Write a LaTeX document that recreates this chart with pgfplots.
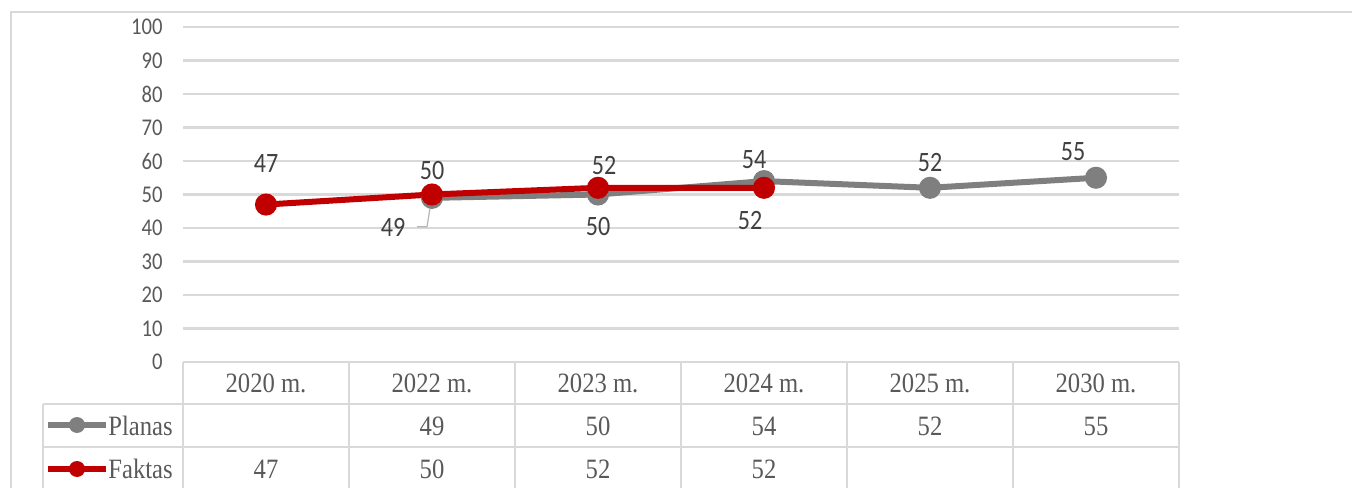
\documentclass[border=0pt]{standalone}
\usepackage{fontspec}
\setmainfont[FakeStretch=0.88]{Liberation Serif}
\newfontfamily\labfont[FakeStretch=0.86]{Carlito}
\usepackage{pgfplots}
\pgfplotsset{compat=1.18}
\definecolor{gridc}{HTML}{D9D9D9}
\definecolor{txt}{HTML}{595959}
\definecolor{lbl}{HTML}{404040}
\definecolor{plan}{HTML}{7F7F7F}
\definecolor{fakt}{HTML}{C00000}

\begin{document}
\begin{tikzpicture}
\useasboundingbox (0,0) rectangle (676pt,243.5pt);
% outer frame
\draw[gridc, line width=1.2pt] (5.5pt,-5pt) -- (5.5pt,237.5pt) -- (690pt,237.5pt);

\begin{axis}[
    at={(91.5pt,62.5pt)}, anchor=south west,
    scale only axis, width=498pt, height=167.5pt,
    xmin=-0.5, xmax=5.5, ymin=0, ymax=100,
    ytick={0,10,...,100}, xtick=\empty,
    axis line style={draw=none},
    ymajorgrids, grid style={gridc, line width=1.2pt},
    major tick length=0pt,
    yticklabel style={font=\labfont\fontsize{12}{14}\selectfont, text=txt, inner sep=0pt, xshift=-10pt},
    /pgf/number format/assume math mode=true,
    clip=false,
]
  \addplot[plan, line width=3pt, mark=*, mark size=4pt] coordinates {
    (1,49) (2,50) (3,54) (4,52) (5,55)
  };
  \addplot[fakt, line width=3pt, mark=*, mark size=4pt] coordinates {
    (0,47) (1,50) (2,52) (3,52)
  };

  % data labels
  \tikzset{dl/.style={font=\labfont\fontsize{14}{16}\selectfont, text=lbl, inner sep=0pt}}
  \node[dl, yshift=20.5pt] at (axis cs:0,47) {47};
  \node[dl, yshift=11.75pt] at (axis cs:1,50) {50};
  \node[dl, yshift=11pt, xshift=3pt] at (axis cs:2,52) {52};
  \node[dl, yshift=-16.5pt, xshift=-7pt] at (axis cs:3,52) {52};
  \node[dl, yshift=-16pt] at (axis cs:2,50) {50};
  \node[dl, yshift=-15pt, xshift=-19.5pt] at (axis cs:1,49) {49};
  \draw[gridc!60!gray, line width=0.6pt]
    ([xshift=-0.5pt, yshift=-2pt]axis cs:1,49) --
    ([xshift=-2.5pt, yshift=-14.5pt]axis cs:1,49) --
    ([xshift=-7.5pt, yshift=-14.5pt]axis cs:1,49);
  \node[dl, yshift=10.5pt, xshift=-5pt] at (axis cs:3,54) {54};
  \node[dl, yshift=12.5pt] at (axis cs:4,52) {52};
  \node[dl, yshift=13pt, xshift=-11.5pt] at (axis cs:5,55) {55};
\end{axis}

% data table
\begin{scope}[x=0.5pt, y=-0.5pt, shift={(0,243.5pt)}]
  \draw[gridc, line width=1.2pt]
    (183,362) -- (1179,362)
    (43,404) -- (1179,404)
    (43,447) -- (1179,447)
    (43,404) -- (43,495);
  \foreach \xx in {183,349,515,681,847,1013,1179}
    \draw[gridc, line width=1.2pt] (\xx,362) -- (\xx,495);
  \tikzset{tc/.style={font=\fontsize{14}{16}\selectfont, text=txt, inner sep=0pt}}
  \foreach \lab [count=\i from 0] in {2020 m.,2022 m.,2023 m.,2024 m.,2025 m.,2030 m.}
    \node[tc] at ({266+166*\i},383) {\lab};
  \foreach \v [count=\i from 1] in {49,50,54,52,55}
    \node[tc] at ({266+166*\i},426) {\v};
  \foreach \v [count=\i from 0] in {47,50,52,52}
    \node[tc] at ({266+166*\i},469) {\v};
  % legend keys
  \draw[plan, line width=3pt] (48,425) -- (106,425);
  \fill[plan] (77,425) circle (4pt);
  \node[tc, anchor=west] at (108,426) {Planas};
  \draw[fakt, line width=3pt] (48,469) -- (106,469);
  \fill[fakt] (77,469) circle (4pt);
  \node[tc, anchor=west] at (108,469) {Faktas};
\end{scope}
\end{tikzpicture}
\end{document}
